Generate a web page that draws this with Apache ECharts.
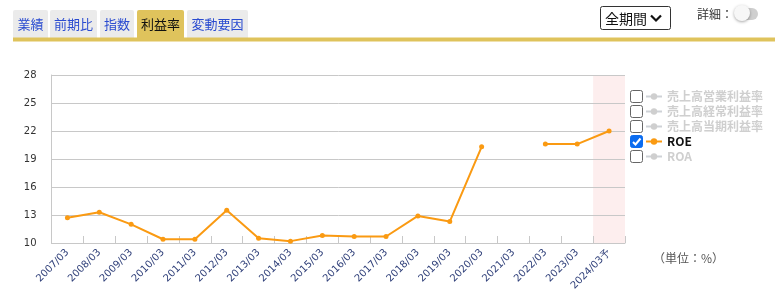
<!DOCTYPE html>
<html>
<head>
<meta charset="utf-8">
<script src="https://cdn.jsdelivr.net/npm/echarts@6/dist/echarts.min.js"></script>
<style>
html,body{margin:0;padding:0;background:#fff;}
#chart{width:775px;height:308px;}
</style>
</head>
<body>
<div id="chart"></div>
<script>
const categories = ['2007/03','2008/03','2009/03','2010/03','2011/03','2012/03','2013/03','2014/03','2015/03','2016/03','2017/03','2018/03','2019/03','2020/03','2021/03','2022/03','2023/03','2024/03予'];
const roe = [12.7,13.3,12.0,10.4,10.4,13.5,10.5,10.2,10.8,10.7,10.7,12.9,12.3,20.3,null,20.6,20.6,22.0];
const operatingMargin = [];
const ordinaryMargin = [];
const netMargin = [];
const roa = [];
const seriesNames = ['売上高営業利益率','売上高経常利益率','売上高当期利益率','ROE','ROA'];
const tabLabels = ['業績','前期比','指数','利益率','変動要因'];
const yMin = 10, yMax = 28, yStep = 3;
const forecastCategory = '2024/03予';

const FONT_JP = '"Noto Sans CJK JP", "Noto Sans", sans-serif';
const FONT_NUM = '"DejaVu Sans", sans-serif';
const GOLD = '#dfc35c';
const ORANGE = '#fa9a12';

const bandData = categories.map(c => c === forecastCategory ? yMax : null);

// tabs
const tabBoxes = [[13,48],[50,97],[100,134],[137,184],[187,248]];
const graphics = [];
tabLabels.forEach((t, i) => {
  const [x0, x1] = tabBoxes[i];
  const active = t === '利益率';
  graphics.push({type:'rect', shape:{x:x0, y:10, width:x1-x0, height:28, r:[2,2,0,0]}, style:{fill: active ? GOLD : '#ebebeb'}, silent:true});
  graphics.push({type:'text', x:(x0+x1)/2, y:24, style:{text:t, fill: active ? '#111' : '#2a4bd0', font:'13px ' + FONT_JP, align:'center', verticalAlign:'middle'}, silent:true});
});
graphics.push({type:'rect', shape:{x:13, y:37.5, width:762, height:4}, style:{fill:GOLD}, silent:true});
// dropdown
graphics.push({type:'rect', shape:{x:600.5, y:6.5, width:70, height:23, r:2}, style:{fill:'#fff', stroke:'#333', lineWidth:1}, silent:true});
graphics.push({type:'text', x:605, y:18.5, style:{text:'全期間', fill:'#111', font:'14px ' + FONT_JP, verticalAlign:'middle'}, silent:true});
graphics.push({type:'polyline', shape:{points:[[651,15.5],[656,20.5],[661,15.5]]}, style:{stroke:'#111', lineWidth:2.2, fill:null}, silent:true});
// detail toggle
graphics.push({type:'text', x:697, y:14, style:{text:'詳細：', fill:'#333', font:'12px ' + FONT_JP, verticalAlign:'middle'}, silent:true});
graphics.push({type:'rect', shape:{x:736, y:8, width:22, height:12, r:6}, style:{fill:'#cfcfcf'}, silent:true});
graphics.push({type:'circle', shape:{cx:742, cy:13, r:8}, style:{fill:'#f7f7f7', shadowBlur:3, shadowColor:'rgba(0,0,0,0.35)', shadowOffsetY:1}, silent:true});
// legend checkboxes
seriesNames.forEach((n, i) => {
  const y = 90.5 + i * 15;
  const checked = n === 'ROE';
  graphics.push({type:'rect', shape:{x:630.5, y:y, width:12, height:12, r:2}, style:{fill: checked ? '#0b6cf0' : '#fff', stroke: checked ? '#0b6cf0' : '#666', lineWidth:1}, silent:true});
  if (checked) {
    graphics.push({type:'polyline', shape:{points:[[633,y+6.5],[635.5,y+9],[640.5,y+3]]}, style:{stroke:'#fff', lineWidth:2, fill:null}, silent:true});
  }
});
// unit label
graphics.push({type:'text', x:653, y:258, style:{text:'（単位：%）', fill:'#555', font:'12px ' + FONT_JP, verticalAlign:'middle'}, silent:true});

const chart = echarts.init(document.getElementById('chart'), null, {renderer:'canvas'});
chart.setOption({
  animation: false,
  grid: {left: 51.5, right: 150, top: 75, bottom: 65, containLabel: false},
  legend: {
    data: seriesNames,
    orient: 'vertical',
    left: 645, top: 90.5,
    padding: 0,
    itemWidth: 16, itemHeight: 8, itemGap: 3,
    selectedMode: true,
    inactiveColor: '#cfcfcf',
    selected: {'売上高営業利益率': false, '売上高経常利益率': false, '売上高当期利益率': false, 'ROE': true, 'ROA': false},
    textStyle: {fontSize: 12, fontWeight: 'bold', color: '#111', fontFamily: FONT_JP, lineHeight: 12, padding: [0,0,0,0]}
  },
  xAxis: {
    type: 'category',
    data: categories,
    boundaryGap: true,
    axisLine: {show: true, lineStyle: {color: '#c8c8c8'}},
    axisTick: {show: true, inside: true, length: 7, alignWithLabel: false, lineStyle: {color: '#c8c8c8'}},
    axisLabel: {rotate: 45, interval: 0, fontSize: 10, fontFamily: FONT_NUM, color: '#30407a', margin: 8}
  },
  yAxis: {
    type: 'value',
    min: yMin, max: yMax, interval: yStep,
    axisLine: {show: true, lineStyle: {color: '#c8c8c8'}},
    axisTick: {show: false},
    splitLine: {show: true, lineStyle: {color: '#c8c8c8'}},
    axisLabel: {fontSize: 10, fontFamily: FONT_NUM, color: '#333', margin: 15}
  },
  series: [
    {name: 'forecast', type: 'bar', data: bandData, barWidth: '100%', itemStyle: {color: '#fdeeee'}, z: -1, silent: true, legendHoverLink: false},
    {name: '売上高営業利益率', type: 'line', data: operatingMargin, symbol: 'circle', symbolSize: 4, itemStyle: {color: '#aaa'}},
    {name: '売上高経常利益率', type: 'line', data: ordinaryMargin, symbol: 'circle', symbolSize: 4, itemStyle: {color: '#aaa'}},
    {name: '売上高当期利益率', type: 'line', data: netMargin, symbol: 'circle', symbolSize: 4, itemStyle: {color: '#aaa'}},
    {name: 'ROE', type: 'line', data: roe, connectNulls: false, symbol: 'circle', symbolSize: 5, showSymbol: true,
      lineStyle: {color: ORANGE, width: 2}, itemStyle: {color: ORANGE}},
    {name: 'ROA', type: 'line', data: roa, symbol: 'circle', symbolSize: 4, itemStyle: {color: '#aaa'}}
  ],
  graphic: graphics
});
</script>
</body>
</html>
